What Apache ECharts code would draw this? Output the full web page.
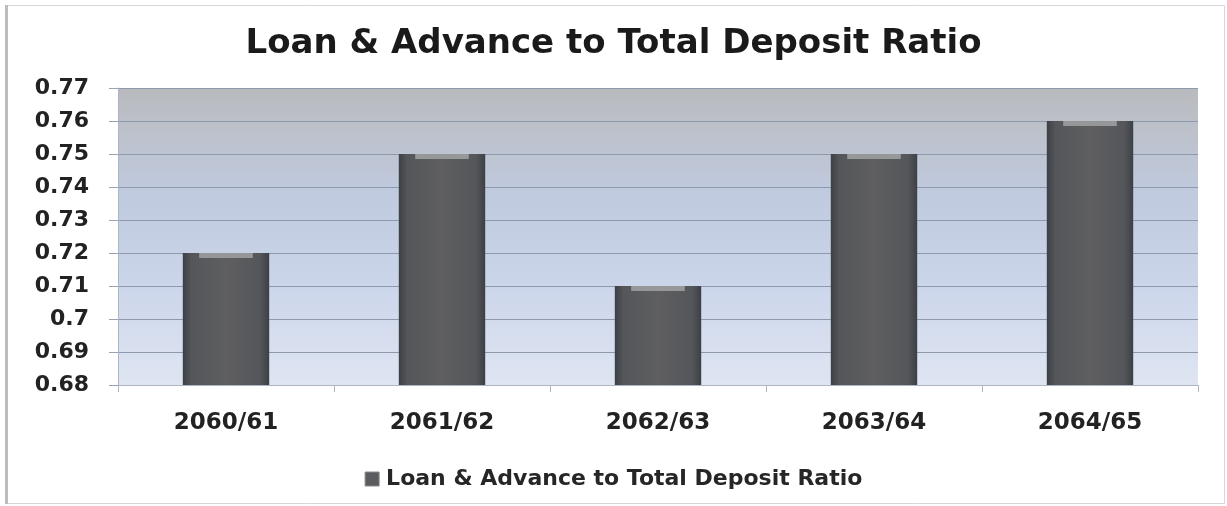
<!DOCTYPE html>
<html>
<head>
<meta charset="utf-8">
<script src="https://cdn.jsdelivr.net/npm/echarts@6/dist/echarts.min.js"></script>
<style>
  html, body { margin: 0; padding: 0; background: #ffffff; }
  #chart { width: 1227px; height: 506px; }
</style>
</head>
<body>
<div id="chart"></div>
<script>
// Loan & advance to total deposit ratio by fiscal year
const categories = ['2060/61', '2061/62', '2062/63', '2063/64', '2064/65'];
const ratioValues = [0.72, 0.75, 0.71, 0.75, 0.76];
const seriesName = 'Loan & Advance to Total Deposit Ratio';
const titleText = 'Loan & Advance to Total Deposit Ratio';

const FONT = '"DejaVu Sans", "Open Sans", sans-serif';

const chart = echarts.init(document.getElementById('chart'), null, { renderer: 'canvas' });

const barFill = new echarts.graphic.LinearGradient(0, 0, 1, 0, [
  { offset: 0, color: '#3c3f44' },
  { offset: 0.1, color: '#54565a' },
  { offset: 0.5, color: '#5f5f60' },
  { offset: 0.9, color: '#54565a' },
  { offset: 1, color: '#3c3f44' }
]);

chart.setOption({
  animation: false,
  backgroundColor: '#ffffff',
  graphic: [
    {
      type: 'rect',
      z: -10,
      shape: { x: 5.5, y: 5.5, width: 1219, height: 498 },
      style: { fill: 'none', stroke: '#d6d6d6', lineWidth: 1 }
    },
    {
      type: 'rect',
      z: -9,
      shape: { x: 5, y: 5, width: 3, height: 499 },
      style: { fill: '#bdbdbd' }
    }
  ],
  title: {
    text: titleText,
    left: 'center',
    top: 22,
    textStyle: { fontFamily: FONT, fontSize: 34, fontWeight: 'bold', color: '#1a1a1a' }
  },
  legend: {
    bottom: 11,
    left: 'center',
    itemWidth: 14,
    itemHeight: 14,
    itemGap: 10,
    icon: 'rect',
    data: [{ name: seriesName, itemStyle: { color: '#5b5c5f', borderColor: '#8a8a8a', borderWidth: 1 } }],
    textStyle: { fontFamily: FONT, fontSize: 22, fontWeight: 'bold', color: '#262626', padding: [0, 0, 0, 2] }
  },
  grid: {
    left: 118,
    right: 29,
    top: 88,
    bottom: 121,
    show: true,
    borderWidth: 0,
    backgroundColor: new echarts.graphic.LinearGradient(0, 0, 0, 1, [
      { offset: 0, color: '#b8babe' },
      { offset: 0.12, color: '#bcc0c8' },
      { offset: 0.35, color: '#c0cade' },
      { offset: 0.65, color: '#cbd5ea' },
      { offset: 1, color: '#dfe5f2' }
    ])
  },
  xAxis: {
    type: 'category',
    data: categories,
    axisLine: { show: true, lineStyle: { color: '#aeb5c2', width: 1 } },
    axisTick: { show: true, alignWithLabel: false, length: 7, lineStyle: { color: '#aeb5c2' } },
    axisLabel: { fontFamily: FONT, fontSize: 23, fontWeight: 'bold', color: '#222222', margin: 27 },
    splitLine: { show: false }
  },
  yAxis: {
    type: 'value',
    min: 0.68,
    max: 0.77,
    interval: 0.01,
    axisLine: { show: true, lineStyle: { color: '#aeb5c2', width: 1 } },
    axisTick: { show: true, length: 9, lineStyle: { color: '#9aa3b3' } },
    axisLabel: {
      fontFamily: FONT, fontSize: 22, fontWeight: 'bold', color: '#222222', margin: 29,
      formatter: function (v) { return String(parseFloat(v.toFixed(2))); }
    },
    splitLine: { show: true, lineStyle: { color: '#8e99ad', width: 1 } }
  },
  series: [
    {
      name: seriesName,
      type: 'bar',
      data: ratioValues,
      barWidth: '40%',
      itemStyle: { color: barFill },
      z: 2
    },
    {
      // lighter bevel cap across the top of each bar
      name: 'cap',
      type: 'pictorialBar',
      data: ratioValues,
      symbol: 'rect',
      symbolPosition: 'end',
      symbolSize: ['36%', 5],
      symbolOffset: [0, 0],
      itemStyle: { color: '#959799' },
      z: 3,
      silent: true,
      legendHoverLink: false
    }
  ]
});
</script>
</body>
</html>
